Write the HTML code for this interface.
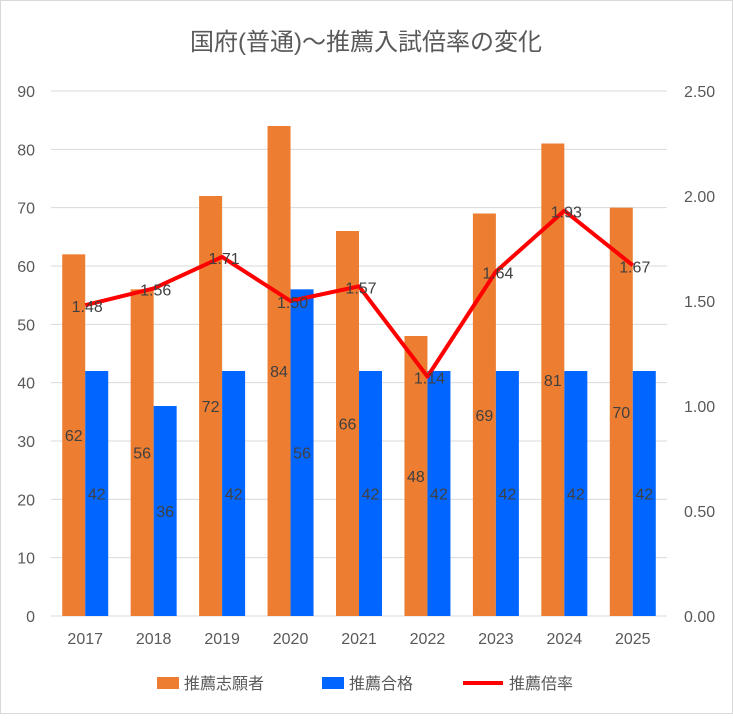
<!DOCTYPE html>
<html><head><meta charset="utf-8"><style>
body{margin:0;background:#fff}
svg text{font-family:"Liberation Sans","Noto Sans CJK JP",sans-serif}
</style></head><body>
<svg id="c" width="733" height="714">
<rect x="0.5" y="0.5" width="732" height="713" fill="#fff" stroke="#d9d9d9"/>
<text x="366" y="50" text-anchor="middle" font-size="24" fill="#595959">国府(普通)～推薦入試倍率の変化</text>
<g id="g"></g>
<g>
<rect x="157" y="677" width="22" height="12" fill="#ed7d31"/>
<text x="184" y="689" font-size="16" fill="#595959">推薦志願者</text>
<rect x="322" y="677" width="22" height="12" fill="#0066ff"/>
<text x="349" y="689" font-size="16" fill="#595959">推薦合格</text>
<line x1="463" y1="683" x2="503" y2="683" stroke="#ff0000" stroke-width="4"/>
<text x="509" y="689" font-size="16" fill="#595959">推薦倍率</text>
</g>
</svg>
<script>
const categories=["2017","2018","2019","2020","2021","2022","2023","2024","2025"];
const applicants=[62,56,72,84,66,48,69,81,70];
const passed=[42,36,42,56,42,42,42,42,42];
const ratio=[1.48,1.56,1.71,1.50,1.57,1.14,1.64,1.93,1.67];
const leftTicks=[0,10,20,30,40,50,60,70,80,90];
const rightTicks=["0.00","0.50","1.00","1.50","2.00","2.50"];
const X0=51,X1=667,Y0=616,Y1=91;
const yL=v=>Y0-(v/90)*(Y0-Y1);
const yR=v=>Y0-(v/2.5)*(Y0-Y1);
const band=(X1-X0)/categories.length;
const xc=i=>X0+band*(i+0.5);
const g=document.getElementById('g');
const NS="http://www.w3.org/2000/svg";
function mk(t,a){const e=document.createElementNS(NS,t);for(const k in a)e.setAttribute(k,a[k]);g.appendChild(e);return e;}
leftTicks.forEach(v=>{
 const l=mk('line',{x1:X0,x2:X1,y1:yL(v),y2:yL(v),stroke:'#d9d9d9','stroke-width':1});
 
 
 const t=mk('text',{x:35,y:yL(v)+6,'text-anchor':'end','font-size':16,fill:'#595959'});t.textContent=v;
 
 
});
rightTicks.forEach(s=>{
 const t=mk('text',{x:684,y:yR(+s)+6,'font-size':16,fill:'#595959'});t.textContent=s;
 
 
});
const bw=23;
categories.forEach((c,i)=>{
 const x=xc(i);
 const a=mk('rect',{x:x-bw,y:yL(applicants[i]),width:bw,height:Y0-yL(applicants[i]),fill:'#ed7d31'});
 
 
 const b=mk('rect',{x:x,y:yL(passed[i]),width:bw,height:Y0-yL(passed[i]),fill:'#0066ff'});
 
 
 const t=mk('text',{x:x,y:644,'text-anchor':'middle','font-size':16,fill:'#595959'});t.textContent=c;
 
 
 const la=mk('text',{x:x-bw/2,y:(Y0+yL(applicants[i]))/2+6,'text-anchor':'middle','font-size':16,fill:'#404040'});la.textContent=applicants[i];
 
 
 const lb=mk('text',{x:x+bw/2,y:(Y0+yL(passed[i]))/2+6,'text-anchor':'middle','font-size':16,fill:'#404040'});lb.textContent=passed[i];
 
 
});
const p=mk('polyline',{points:ratio.map((v,i)=>xc(i)+','+yR(v)).join(' '),fill:'none',stroke:'#ff0000','stroke-width':4,'stroke-linejoin':'round'});


ratio.forEach((v,i)=>{
 const t=mk('text',{x:xc(i)+2,y:yR(v)+7,'text-anchor':'middle','font-size':16,fill:'#404040'});t.textContent=v.toFixed(2);
 
 
});
</script>
</body></html>
